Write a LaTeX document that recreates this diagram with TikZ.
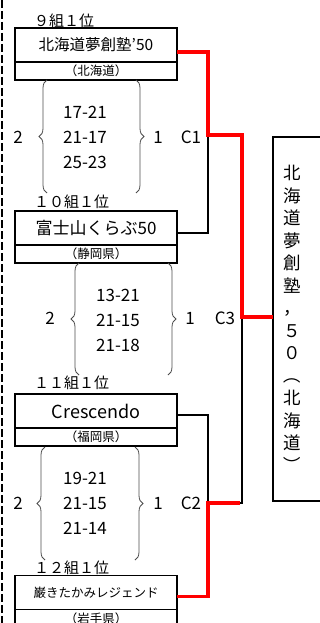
\documentclass[tikz,border=0pt]{standalone}
\usepackage{fontspec}
\setmainfont{Noto Sans CJK JP}
\usetikzlibrary{positioning,decorations.pathreplacing}

\tikzset{
  team/.style={draw, line width=1.5pt, outer sep=0pt, inner sep=0pt, minimum width=162pt, minimum height=34pt, font=\fontsize{15.5}{17}\selectfont},
  pref/.style={draw, line width=1.5pt, outer sep=0pt, inner sep=0pt, minimum width=162pt, minimum height=18pt, font=\fontsize{12.5}{13}\selectfont},
  group/.style={anchor=west, inner sep=0pt, font=\fontsize{15}{16}\selectfont},
  score/.style={align=center, inner sep=0pt, font=\fontsize{17}{25}\selectfont},
  sets/.style={inner sep=0pt, font=\fontsize{17}{18}\selectfont},
  brc/.style={draw=black!70, line width=0.8pt, decorate, decoration={brace, amplitude=8pt}},
  wire/.style={line width=1.5pt},
  win/.style={red, line width=3.5pt},
  champ/.style={draw, line width=1.5pt, outer sep=0pt, minimum width=56pt, minimum height=364pt},
  vname/.style={align=center, inner sep=0pt, font=\fontsize{17.5}{22.5}\selectfont}
}
\newcommand{\vparen}[1]{\rotatebox[origin=c]{-90}{#1}}

\begin{document}
\begin{tikzpicture}[x=1pt,y=-1pt]
  \useasboundingbox (0,0) rectangle (320,623);

  \draw[line width=1.5pt, dash pattern=on 8pt off 3pt] (2,0) -- (2,623);

  \node[group] (g1) at (34,21) {９組１位};
  \node[team] (t1) at (96,45) {北海道夢創塾’50};
  \node[pref, below=0pt of t1] (p1) {（北海道）};

  \node[group] (g2) at (34,202) {１０組１位};
  \node[team, font=\fontsize{17}{18}\selectfont] (t2) at (96,228) {富士山くらぶ50};
  \node[pref, below=0pt of t2] (p2) {（静岡県）};

  \node[group] (g3) at (34,383) {１１組１位};
  \node[team, font=\fontsize{18}{19}\selectfont] (t3) at (96,411) {Crescendo};
  \node[pref, below=0pt of t3] (p3) {（福岡県）};

  \node[group] (g4) at (34,568) {１２組１位};
  \node[team, font=\fontsize{12.5}{14}\selectfont] (t4) at (96,592.5) {巌きたかみレジェンド};
  \node[pref, below=0pt of t4] (p4) {（岩手県）};

  \draw[brc] (47,193) -- (47,80);
  \draw[brc] (136,80) -- (136,193);
  \node[score] (s1) at (85,137) {17-21\\21-17\\25-23};
  \node[sets] (l1) at (18,137) {2};
  \node[sets] (r1) at (158,137) {1};
  \node[sets] (m1) at (191,137) {C1};

  \draw[brc] (79,375) -- (79,263);
  \draw[brc] (168,263) -- (168,375);
  \node[score] (s3) at (118,320) {13-21\\21-15\\21-18};
  \node[sets] (l3) at (50,318) {2};
  \node[sets] (r3) at (190,318) {1};
  \node[sets] (m3) at (225,318) {C3};

  \draw[brc] (45,560) -- (45,447);
  \draw[brc] (135,447) -- (135,560);
  \node[score] (s2) at (85,503) {19-21\\21-15\\21-14};
  \node[sets] (l2) at (18,503) {2};
  \node[sets] (r2) at (158,503) {1};
  \node[sets] (m2) at (191,503) {C2};

  \node[champ] (ch) at (301,319) {};
  \node[vname] (chname) at (292,320) {北\\海\\道\\夢\\創\\塾\\，\\５\\０\\\vparen{（}\\北\\海\\道\\\vparen{）}};

  \coordinate (o1) at ([yshift=-7pt]t1.east);
  \coordinate (o2) at ([yshift=-5pt]t2.east);
  \coordinate (o3) at ([yshift=-4pt]t3.east);
  \coordinate (o4) at ([yshift=-4pt]t4.east);
  \coordinate (c1) at (208,135);
  \coordinate (c2) at (208,503);
  \coordinate (c3) at (242,317);

  \draw[wire] (o1) -| (c1) |- (o2);
  \draw[wire] (o3) -| (c2) |- (o4);
  \draw[wire] (c1) -- (c1 -| c3) -- (c2 -| c3) -- (c2);
  \draw[wire] (c3) -- (c3 -| ch.west);

  \draw[win] (o1) -| (c1) -- (c1 -| c3) -- (c3) -- (c3 -| ch.west);
  \draw[win] (o4) -| (c2) -- ([xshift=-2pt]c2 -| c3);
\end{tikzpicture}
\end{document}
